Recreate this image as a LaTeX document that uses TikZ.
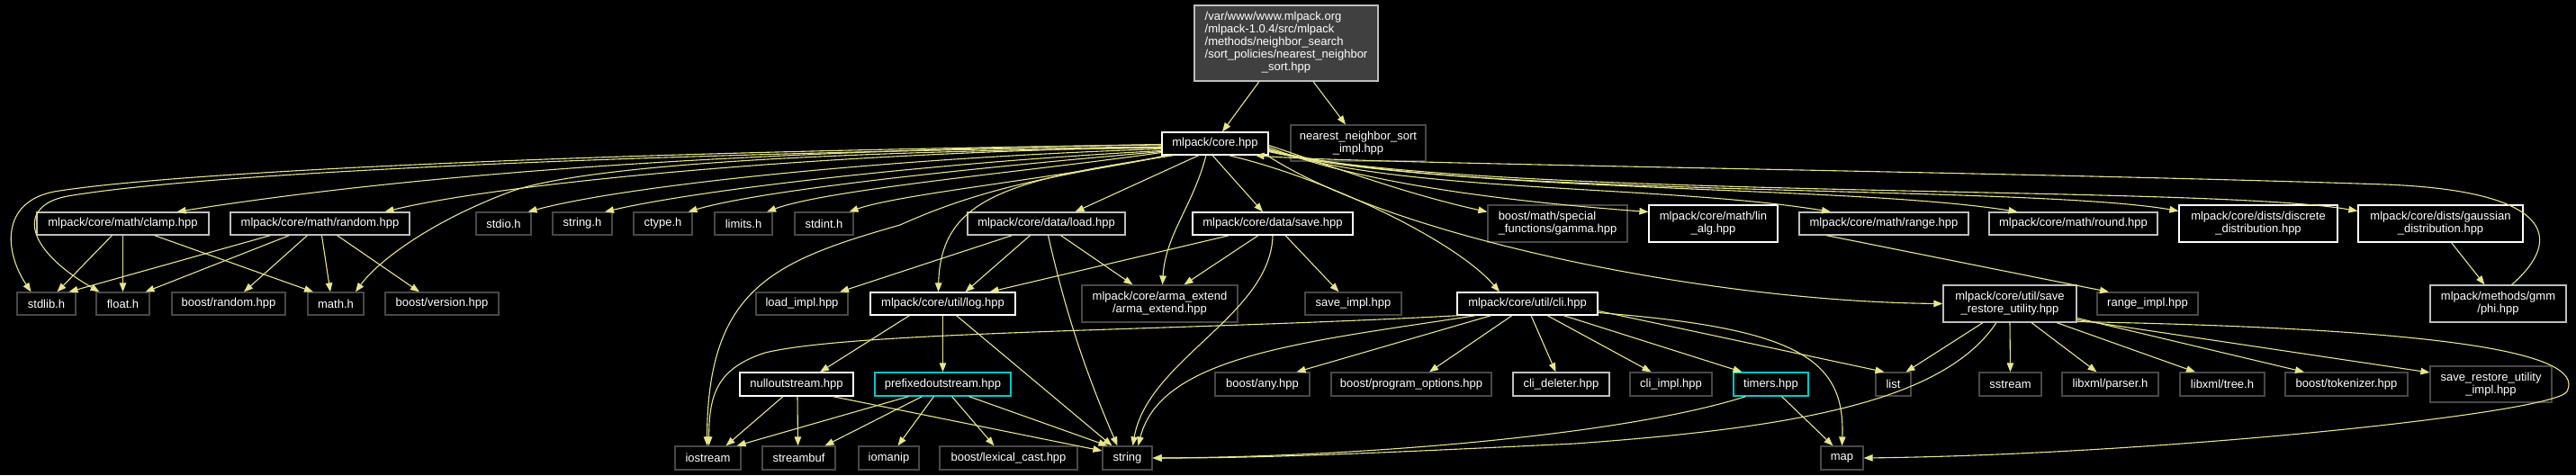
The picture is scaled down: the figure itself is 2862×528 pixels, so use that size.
\documentclass[tikz,border=0pt]{standalone}
\usepackage{fontspec}
\setmainfont{Liberation Sans}
\usetikzlibrary{arrows.meta}
\definecolor{edgecol}{RGB}{230,230,140}
\definecolor{silvbord}{RGB}{190,190,190}
\definecolor{darkbord}{RGB}{72,72,72}
\definecolor{cyanbord}{RGB}{0,200,200}
\definecolor{topfill}{RGB}{64,64,64}
\newcommand\fsz{\fontsize{13}{14}\selectfont}
\begin{document}
\begin{tikzpicture}[x=1pt,y=-1pt,
  base/.style={rectangle, fill=black, text=white, inner sep=0pt, line width=1.2pt, font=\fsz, align=center},
  wb/.style={base, draw=white},
  sb/.style={base, draw=silvbord},
  db/.style={base, draw=darkbord},
  cb/.style={base, draw=cyanbord},
  one/.style={minimum height=25},
  two/.style={minimum height=41},
  edge/.style={draw=edgecol, line width=1.1pt, -{Triangle[length=10pt,width=7.5pt]}}]
\fill[black] (0,0) rectangle (2862,528);
\useasboundingbox (0,0) rectangle (2862,528);
% row 0
\node[base, draw=silvbord, fill=topfill, minimum width=204, minimum height=84] (top) at (1429,48)
 {\begin{tabular}{@{}l@{}}/var/www/www.mlpack.org\\/mlpack-1.0.4/src/mlpack\\/methods/neighbor\_search\\/sort\_policies/nearest\_neighbor\\\multicolumn{1}{@{}c@{}}{\_sort.hpp}\end{tabular}};
% row 1
\node[wb, minimum width=118, minimum height=25] (core) at (1350,159.5) {mlpack/core.hpp};
\node[db, minimum width=150, minimum height=40] (nnsi) at (1509,159) {nearest\_neighbor\_sort\\\_impl.hpp};
% row 2
\node[sb, one, minimum width=191] (clamp) at (136.5,248.5) {mlpack/core/math/clamp.hpp};
\node[sb, one, minimum width=199] (random) at (355.5,248.5) {mlpack/core/math/random.hpp};
\node[db, one, minimum width=61] (stdio) at (559.5,248.5) {stdio.h};
\node[db, one, minimum width=66] (stringh) at (647,248.5) {string.h};
\node[db, one, minimum width=65] (ctype) at (736.5,248.5) {ctype.h};
\node[db, one, minimum width=64] (limits) at (826,248.5) {limits.h};
\node[db, one, minimum width=65] (stdint) at (915.5,248.5) {stdint.h};
\node[sb, one, minimum width=175] (load) at (1162.5,248.5) {mlpack/core/data/load.hpp};
\node[wb, one, minimum width=178] (save) at (1414,248.5) {mlpack/core/data/save.hpp};
\node[db, two, minimum width=155, align=left] (gamma) at (1730.5,248.5) {boost/math/special\\\_functions/gamma.hpp};
\node[wb, two, minimum width=143] (linalg) at (1903.5,248.5) {mlpack/core/math/lin\\\_alg.hpp};
\node[sb, one, minimum width=188] (range) at (2093,248.5) {mlpack/core/math/range.hpp};
\node[sb, one, minimum width=187] (round) at (2303.5,248.5) {mlpack/core/math/round.hpp};
\node[wb, two, minimum width=176] (discrete) at (2509,248.5) {mlpack/core/dists/discrete\\\_distribution.hpp};
\node[wb, two, minimum width=183] (gaussian) at (2711.5,248.5) {mlpack/core/dists/gaussian\\\_distribution.hpp};
% row 3
\node[db, one, minimum width=65] (stdlib) at (51.5,337.5) {stdlib.h};
\node[db, one, minimum width=59] (float) at (136.5,337.5) {float.h};
\node[db, one, minimum width=126] (brandom) at (254,337.5) {boost/random.hpp};
\node[db, one, minimum width=62] (mathh) at (373,337.5) {math.h};
\node[db, one, minimum width=126] (bversion) at (491,337.5) {boost/version.hpp};
\node[db, one, minimum width=102] (loadimpl) at (891,337.5) {load\_impl.hpp};
\node[wb, one, minimum width=161] (log) at (1047.5,337.5) {mlpack/core/util/log.hpp};
\node[db, two, minimum width=173] (arma) at (1288.5,337.5) {mlpack/core/arma\_extend\\/arma\_extend.hpp};
\node[db, one, minimum width=107] (saveimpl) at (1503.5,337.5) {save\_impl.hpp};
\node[wb, one, minimum width=156] (cli) at (1697,337.5) {mlpack/core/util/cli.hpp};
\node[sb, two, minimum width=148] (sru) at (2233,337.5) {mlpack/core/util/save\\\_restore\_utility.hpp};
\node[db, one, minimum width=112] (rangeimpl) at (2386,337.5) {range\_impl.hpp};
\node[sb, two, minimum width=151] (phi) at (2775.5,337.5) {mlpack/methods/gmm\\/phi.hpp};
% row 4
\node[wb, minimum height=26, minimum width=126] (nullout) at (885,427) {nulloutstream.hpp};
\node[cb, minimum height=26, minimum width=151] (prefixed) at (1047.5,427) {prefixedoutstream.hpp};
\node[db, minimum height=26, minimum width=105] (bany) at (1402.5,427) {boost/any.hpp};
\node[db, minimum height=26, minimum width=178] (bpo) at (1568,427) {boost/program\_options.hpp};
\node[sb, minimum height=26, minimum width=107] (clidel) at (1734.5,427) {cli\_deleter.hpp};
\node[db, minimum height=26, minimum width=91] (cliimpl) at (1856.5,427) {cli\_impl.hpp};
\node[cb, minimum height=26, minimum width=83] (timers) at (1967.5,427) {timers.hpp};
\node[db, minimum height=26, minimum width=39] (list) at (2103.5,427) {list};
\node[db, minimum height=26, minimum width=69] (sstream) at (2233.5,427) {sstream};
\node[db, minimum height=26, minimum width=107] (parser) at (2344.5,427) {libxml/parser.h};
\node[db, minimum height=26, minimum width=94] (tree) at (2469,427) {libxml/tree.h};
\node[db, minimum height=26, minimum width=136] (tokenizer) at (2607,427) {boost/tokenizer.hpp};
\node[db, minimum height=40, minimum width=135] (sruimpl) at (2767.5,427) {save\_restore\_utility\\\_impl.hpp};
% row 5
\node[db, minimum height=26, minimum width=73] (iostream) at (786.5,509) {iostream};
\node[db, minimum height=26, minimum width=81] (streambuf) at (887.5,509) {streambuf};
\node[db, minimum height=26, minimum width=67] (iomanip) at (987.5,509) {iomanip};
\node[db, minimum height=26, minimum width=153] (lexcast) at (1120.5,509) {boost/lexical\_cast.hpp};
\node[db, minimum height=26, minimum width=55] (string) at (1252.5,509) {string};
\node[db, minimum height=26, minimum width=47] (map) at (2046.5,509) {map};

% ---- edges ----
\draw[edge] ([xshift=-30]top.south) -- ([xshift=8]core.north);
\draw[edge] ([xshift=30]top.south) -- ([xshift=-14]nnsi.north);
% core -> far left
\draw[edge] ([yshift=-1.5]core.west) .. controls (700,168) and (200,190) .. (60,213) .. controls (0,225) and (5,280) .. ([xshift=-17]stdlib.north);
\draw[edge] ([yshift=-3.5]core.west) .. controls (700,170) and (220,193) .. (75,218) .. controls (20,228) and (25,275) .. ([xshift=-26]float.north);
\draw[edge] ([yshift=-1]core.west) .. controls (800,168) and (450,195) .. ([xshift=60]clamp.north);
\draw[edge] ([yshift=-4]core.west) .. controls (900,170) and (550,205) .. ([xshift=72]random.north);
\draw[edge] ([yshift=-5]core.west) .. controls (900,168) and (650,185) .. (570,212) .. controls (480,245) and (420,290) .. ([xshift=22]mathh.north);
\draw[edge] ([yshift=-6]core.west) .. controls (1000,175) and (700,205) .. ([xshift=27]stdio.north);
\draw[edge] ([yshift=-8]core.west) .. controls (1050,180) and (780,210) .. ([xshift=25]stringh.north);
\draw[edge] ([yshift=-9]core.west) .. controls (1100,185) and (850,210) .. ([xshift=28]ctype.north);
\draw[edge] ([yshift=-10]core.west) .. controls (1150,190) and (920,210) .. ([xshift=26]limits.north);
\draw[edge] ([xshift=5]core.south west) .. controls (1200,195) and (1000,215) .. ([xshift=28]stdint.north);
\draw[edge] ([xshift=10]core.south west) .. controls (1180,195) and (1100,205) .. (1000,250) .. controls (860,290) and (786,320) .. ([xshift=-1]iostream.north);
\draw[edge] ([xshift=14]core.south west) .. controls (1120,200) and (1045,220) .. ([xshift=-5]log.north);
\draw[edge] ([xshift=-18]core.south) -- ([xshift=32]load.north);
\draw[edge] ([xshift=-10]core.south) .. controls (1325,230) and (1295,260) .. ([xshift=3]arma.north);
\draw[edge] ([xshift=-3]core.south) -- ([xshift=-11]save.north);
\draw[edge] ([xshift=15]core.south) .. controls (1480,200) and (1620,270) .. ([xshift=-31]cli.north);
\draw[edge] ([xshift=-2]core.south east) .. controls (1550,265) and (1900,335) .. (sru.west);
% core -> right bundle
\draw[edge] ([yshift=-2]core.east) .. controls (1480,185) and (1560,215) .. ([yshift=13]gamma.west);
\draw[edge] ([yshift=-4]core.east) .. controls (1500,200) and (1650,222) .. ([yshift=13]linalg.west);
\draw[edge] ([yshift=-6]core.east) .. controls (1550,215) and (1850,205) .. ([xshift=-59]range.north);
\draw[edge] ([yshift=-7]core.east) .. controls (1600,215) and (2050,205) .. ([xshift=-62]round.north);
\draw[edge] ([yshift=-8]core.east) .. controls (1600,220) and (2250,205) .. ([yshift=14]discrete.west);
\draw[edge] ([yshift=-9]core.east) .. controls (1650,222) and (2450,205) .. ([yshift=14]gaussian.west);
% phi -> core (cycle)
\draw[edge] ([xshift=15]phi.north) .. controls (2850,265) and (2835,212) .. (2650,205) .. controls (2200,190) and (1500,182) .. ([xshift=-15]core.south east);
% clamp, random
\draw[edge] ([xshift=-12]clamp.south) -- ([xshift=12]stdlib.north);
\draw[edge] (clamp.south) -- (float.north);
\draw[edge] ([xshift=35]clamp.south) -- ([xshift=-25]mathh.north);
\draw[edge] ([xshift=-55]random.south) -- ([xshift=25]stdlib.north);
\draw[edge] ([xshift=-34]random.south) -- ([xshift=25]float.north);
\draw[edge] ([xshift=-14]random.south) -- ([xshift=17]brandom.north);
\draw[edge] ([xshift=2]random.south) -- ([xshift=-6]mathh.north);
\draw[edge] ([xshift=19]random.south) -- ([xshift=-25]bversion.north);
% load
\draw[edge] ([xshift=-38]load.south) -- ([xshift=42]loadimpl.north);
\draw[edge] ([xshift=-18]load.south) -- ([xshift=25]log.north);
\draw[edge] ([xshift=16]load.south) -- ([xshift=-30]arma.north);
\draw[edge] ([xshift=2]load.south) .. controls (1180,330) and (1200,400) .. ([xshift=-11]string.north);
% save
\draw[edge] ([xshift=-48]save.south) -- ([xshift=52]log.north);
\draw[edge] ([xshift=-16]save.south) -- ([xshift=27]arma.north);
\draw[edge] ([xshift=14]save.south) -- ([xshift=-16]saveimpl.north);
\draw[edge] (save.south) .. controls (1412,350) and (1275,400) .. ([xshift=6]string.north);
% log
\draw[edge] ([xshift=-37]log.south) -- ([xshift=26]nullout.north);
\draw[edge] (log.south) -- (prefixed.north);
\draw[edge] ([xshift=15]log.south) -- ([xshift=-17]string.north);
% nullout
\draw[edge] ([xshift=-15]nullout.south) -- ([xshift=20]iostream.north);
\draw[edge] ([xshift=1]nullout.south) -- ([xshift=-1]streambuf.north);
\draw[edge] ([xshift=40]nullout.south) -- ([yshift=8]string.west);
% prefixed
\draw[edge] ([xshift=-38]prefixed.south) -- ([xshift=32]iostream.north);
\draw[edge] ([xshift=-23]prefixed.south) -- ([xshift=29]streambuf.north);
\draw[edge] ([xshift=-10]prefixed.south) -- ([xshift=10]iomanip.north);
\draw[edge] ([xshift=10]prefixed.south) -- ([xshift=-16]lexcast.north);
\draw[edge] ([xshift=29]prefixed.south) -- ([xshift=-22]string.north);
% cli
\draw[edge] ([xshift=-75]cli.south) .. controls (1300,368) and (950,368) .. (850,392) .. controls (795,410) and (788,440) .. ([xshift=1]iostream.north);
\draw[edge] ([xshift=-57]cli.south) .. controls (1450,380) and (1290,395) .. ([xshift=12]string.north);
\draw[edge] ([xshift=-40]cli.south) -- ([xshift=38]bany.north);
\draw[edge] ([xshift=-17]cli.south) -- ([xshift=20]bpo.north);
\draw[edge] ([xshift=4]cli.south) -- ([xshift=-6]clidel.north);
\draw[edge] ([xshift=22]cli.south) -- ([xshift=-22]cliimpl.north);
\draw[edge] ([xshift=40]cli.south) -- ([xshift=-32]timers.north);
\draw[edge] ([yshift=-8]cli.east) -- ([xshift=-10]list.north);
\draw[edge] ([yshift=-10]cli.east) .. controls (2000,365) and (2050,400) .. (map.north);
% timers
\draw[edge] ([xshift=12]timers.south) -- ([xshift=-10]map.north);
\draw[edge] ([xshift=-28]timers.south) .. controls (1800,485) and (1500,508) .. (string.east);
% save_restore_utility
\draw[edge] ([xshift=-15]sru.south) .. controls (2160,445) and (2000,475) .. (1750,493) .. controls (1500,505) and (1400,509) .. (string.east);
\draw[edge] ([xshift=-30]sru.south) -- ([xshift=14]list.north);
\draw[edge] (sru.south) -- (sstream.north);
\draw[edge] ([xshift=24]sru.south) -- ([xshift=-15]parser.north);
\draw[edge] ([xshift=52]sru.south) -- ([xshift=-30]tree.north);
\draw[edge] ([yshift=-16]sru.east) -- ([xshift=-47]tokenizer.north);
\draw[edge] ([yshift=-18]sru.east) -- ([yshift=13]sruimpl.west);
\draw[edge] ([yshift=-20]sru.east) .. controls (2700,365) and (2875,390) .. (2852,435) .. controls (2840,459) and (2400,505) .. (map.east);
% range, gaussian
\draw[edge] ([xshift=-64]range.south) -- ([xshift=-43]rangeimpl.north);
\draw[edge] ([xshift=12]gaussian.south) -- ([xshift=-15]phi.north);
\end{tikzpicture}
\end{document}
